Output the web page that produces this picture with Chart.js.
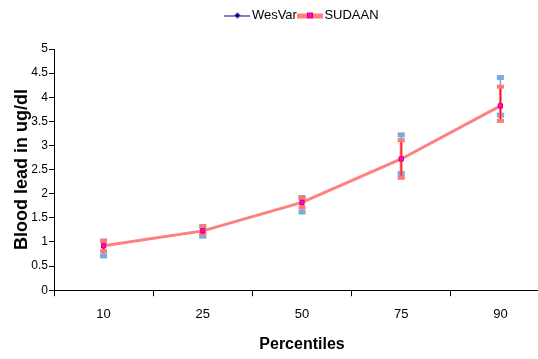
<!DOCTYPE html>
<html>
<head>
<meta charset="utf-8">
<script src="https://cdn.jsdelivr.net/npm/chart.js@4"></script>
<style>
  html, body { margin: 0; padding: 0; background: #fff; overflow: hidden; }
  #wrap { width: 604px; height: 359px; }
</style>
</head>
<body>
<div id="wrap"><canvas id="grafico" width="604" height="359"></canvas></div>
<script>
const categorias = ['10', '25', '50', '75', '90'];
const wesvar = [0.92, 1.22, 1.82, 2.72, 3.82];
const sudaan = [0.92, 1.23, 1.82, 2.72, 3.82];
const wesvarBajo = [0.71, 1.12, 1.62, 2.42, 3.63];
const wesvarAlto = [1.02, 1.32, 1.92, 3.22, 4.41];
const sudaanBajo = [0.81, 1.17, 1.72, 2.33, 3.51];
const sudaanAlto = [1.02, 1.32, 1.92, 3.11, 4.22];
const etiquetasY = ['0', '0.5', '1', '1.5', '2', '2.5', '3', '3.5', '4', '4.5', '5'];

// iconos de la leyenda (linea + marcador)
function icono(color, ancho, marcador) {
    const c = document.createElement('canvas');
    c.width = 26; c.height = 10;
    const g = c.getContext('2d');
    g.fillStyle = color;
    g.fillRect(0, Math.round(5 - ancho / 2), 26, ancho);
    marcador(g);
    return c;
}
const iconoWes = icono('#000080', 1, function(g) {
    g.fillStyle = '#000080';
    g.beginPath();
    g.moveTo(13, 2); g.lineTo(16, 5); g.lineTo(13, 8); g.lineTo(10, 5);
    g.closePath(); g.fill();
});
const iconoSud = icono('#ff8080', 5, function(g) {
    g.fillStyle = '#ff00ff';
    g.fillRect(10, 2, 6, 6);
    g.strokeStyle = '#e00040';
    g.lineWidth = 1;
    g.strokeRect(10.5, 2.5, 5, 5);
});

const barrasError = {
    id: 'barrasError',
    afterLayout(chart) {
        // centrar la leyenda sobre el area del grafico y subirla
        const lg = chart.legend;
        const desp = (chart.chartArea.left + chart.chartArea.right) / 2 - (lg.left + lg.right) / 2;
        lg.left += desp + 2;
        lg.right += desp + 2;
        lg.top -= 17;
        lg.bottom -= 17;
    },
    beforeDatasetsDraw(chart) {
        const ctx = chart.ctx;
        const x = chart.scales.x, y = chart.scales.y;
        ctx.save();
        // WesVar (azul)
        for (let i = 0; i < categorias.length; i++) {
            const px = x.getPixelForValue(i);
            const y1 = y.getPixelForValue(wesvarAlto[i]);
            const y2 = y.getPixelForValue(wesvarBajo[i]);
            ctx.strokeStyle = '#6fa8dc';
            ctx.lineWidth = 1.5;
            ctx.beginPath(); ctx.moveTo(px, y1); ctx.lineTo(px, y2); ctx.stroke();
            ctx.fillStyle = '#78aae0';
            ctx.fillRect(px - 3.5, y1 - 2.5, 7, 5);
            ctx.fillRect(px - 3.5, y2 - 2.5, 7, 5);
        }
        // SUDAAN (rojo)
        for (let i = 0; i < categorias.length; i++) {
            const px = x.getPixelForValue(i);
            const y1 = y.getPixelForValue(sudaanAlto[i]);
            const y2 = y.getPixelForValue(sudaanBajo[i]);
            ctx.strokeStyle = '#ff8080';
            ctx.lineWidth = 3;
            ctx.beginPath(); ctx.moveTo(px, y1); ctx.lineTo(px, y2); ctx.stroke();
            ctx.strokeStyle = '#ff0000';
            ctx.lineWidth = 1;
            ctx.beginPath(); ctx.moveTo(px, y1); ctx.lineTo(px, y2); ctx.stroke();
            ctx.fillStyle = '#ff7878';
            ctx.fillRect(px - 3.5, y1 - 2, 7, 4);
            ctx.fillRect(px - 3.5, y2 - 2, 7, 4);
        }
        ctx.restore();
    }
};

const fuente = "'Liberation Sans', Arial, sans-serif";

new Chart(document.getElementById('grafico'), {
    type: 'line',
    data: {
        labels: categorias,
        datasets: [{
            label: 'WesVar',
            data: wesvar,
            borderColor: '#000080',
            backgroundColor: '#000080',
            borderWidth: 1,
            pointStyle: 'rectRot',
            pointRadius: 2.5,
            pointBorderWidth: 0,
            tension: 0,
            order: 1
        }, {
            label: 'SUDAAN',
            data: sudaan,
            borderColor: '#ff8080',
            backgroundColor: '#ff00ff',
            borderWidth: 3,
            pointStyle: 'rect',
            pointRadius: 3,
            pointBackgroundColor: '#ff00ff',
            pointBorderColor: '#e00040',
            pointBorderWidth: 1,
            tension: 0,
            order: 0
        }]
    },
    options: {
        responsive: false,
        animation: false,
        layout: { padding: { left: 0, right: 54, top: 21, bottom: 5 } },
        plugins: {
            tooltip: { enabled: false },
            legend: {
                position: 'top',
                labels: {
                    usePointStyle: true,
                    pointStyleWidth: 16,
                    boxHeight: 10,
                    padding: 5,
                    color: '#000',
                    font: { family: fuente, size: 13 },
                    generateLabels: function(chart) {
                        return chart.data.datasets.map(function(ds, i) {
                            return {
                                text: ds.label,
                                pointStyle: i === 0 ? iconoWes : iconoSud,
                                datasetIndex: i,
                                fontColor: '#000',
                                lineWidth: 0,
                                hidden: false
                            };
                        });
                    }
                }
            }
        },
        scales: {
            x: {
                offset: true,
                grid: {
                    offset: true,
                    drawOnChartArea: false,
                    color: '#000',
                    tickLength: 6
                },
                border: { color: '#000', width: 1 },
                ticks: {
                    color: '#000',
                    padding: 10,
                    font: { family: fuente, size: 13 }
                },
                title: {
                    display: true,
                    text: 'Percentiles',
                    color: '#000',
                    padding: { top: 3, bottom: 0 },
                    font: { family: fuente, size: 16, weight: 'bold' }
                }
            },
            y: {
                min: 0,
                max: 5,
                afterFit: function(scale) { scale.width = 54; },
                grid: {
                    drawOnChartArea: false,
                    color: '#000',
                    tickLength: 5
                },
                border: { color: '#000', width: 1 },
                ticks: {
                    stepSize: 0.5,
                    color: '#000',
                    padding: 1,
                    font: { family: fuente, size: 12 },
                    callback: function(v, i) { return etiquetasY[i]; }
                },
                title: {
                    display: true,
                    text: 'Blood lead in ug/dl',
                    color: '#000',
                    padding: { top: 11, bottom: 0 },
                    font: { family: fuente, size: 18, weight: 'bold' }
                }
            }
        }
    },
    plugins: [barrasError]
});
</script>
</body>
</html>
